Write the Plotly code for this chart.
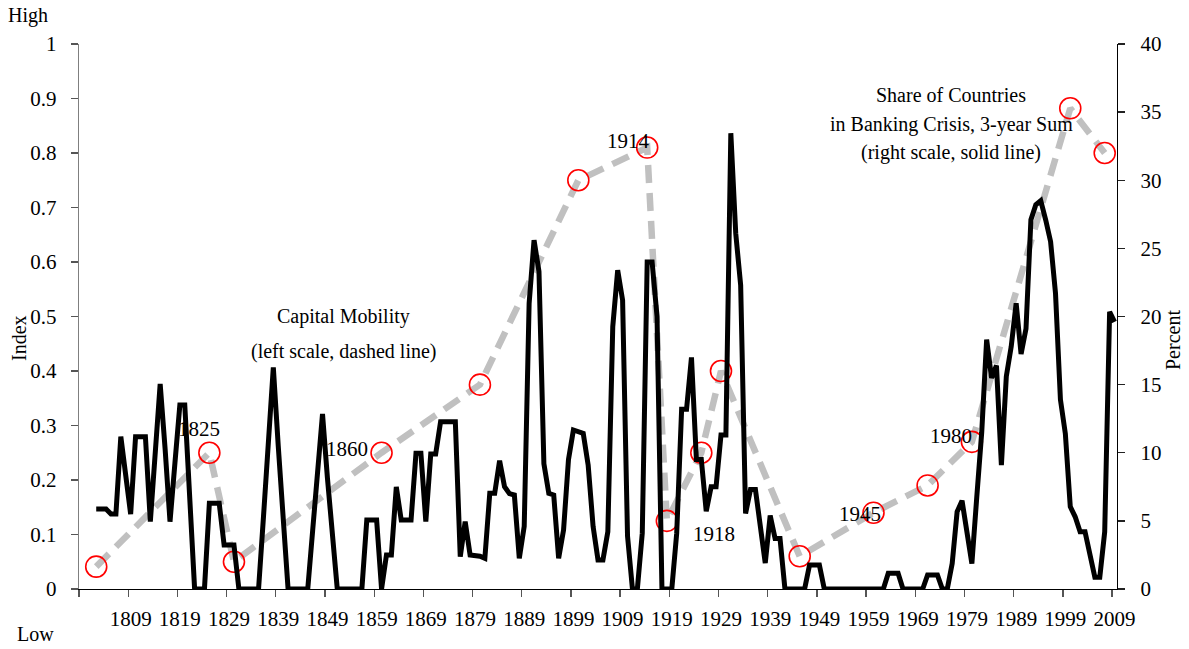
import plotly.graph_objects as go

# ---------------- data ----------------
crisis_years = list(range(1802, 2010))
crisis_share = [
    5.87, 5.87, 5.87, 5.5, 5.5, 11.18, 8.3, 5.5, 11.18, 11.18,          # 1802-1811
    11.18, 4.94, 9.8, 15.05, 10.3, 4.94, 9.25, 13.5, 13.5, 7.0,         # 1812-1821
    0, 0, 0, 6.29, 6.29, 6.29, 3.23, 3.23, 3.23, 0,                     # 1822-1831
    0, 0, 0, 0, 5.3, 10.9, 16.27, 10.5, 4.8, 0,                         # 1832-1841
    0, 0, 0, 0, 4.3, 9.1, 12.84, 8.15, 3.9, 0,                          # 1842-1851
    0, 0, 0, 0, 0, 5.06, 5.06, 5.06, 0, 2.5,                            # 1852-1861
    2.5, 7.5, 5.06, 5.06, 5.06, 9.96, 9.96, 4.94, 9.9, 9.9,             # 1862-1871
    12.28, 12.28, 12.28, 12.28, 2.37, 4.94, 2.5, 2.45, 2.4, 2.25,       # 1872-1881
    7.02, 7.02, 9.42, 7.5, 7.0, 6.9, 2.25, 4.6, 20.97, 25.6,            # 1882-1891
    23.3, 9.2, 7.02, 6.9, 2.25, 4.33, 9.5, 11.67, 11.55, 11.43,         # 1892-1901
    9.1, 4.6, 2.13, 2.13, 4.2, 19.25, 23.4, 21.2, 3.9, 0,               # 1902-1911
    0, 4.1, 24.0, 24.0, 20.0, 0, 0, 0, 4.1, 13.2,                       # 1912-1921
    13.2, 17.0, 9.5, 9.5, 5.7, 7.5, 7.5, 11.3, 11.3, 33.45,             # 1922-1931
    26.1, 22.3, 5.55, 7.3, 7.3, 4.6, 1.9, 5.4, 3.7, 3.7,                # 1932-1941
    0, 0, 0, 0, 0, 1.76, 1.76, 1.76, 0, 0,                              # 1942-1951
    0, 0, 0, 0, 0, 0, 0, 0, 0, 0,                                       # 1952-1961
    0, 1.15, 1.15, 1.15, 0, 0, 0, 0, 0, 1.03,                           # 1962-1971
    1.03, 1.03, 0, 0, 1.88, 5.67, 6.48, 4.33, 1.86, 6.78,               # 1972-1981
    11.5, 18.3, 15.5, 16.4, 9.1, 15.6, 17.8, 20.97, 17.25, 19.1,        # 1982-1991
    27.1, 28.2, 28.5, 27.1, 25.5, 21.7, 13.9, 11.4, 6.04, 5.3,          # 1992-2001
    4.2, 4.2, 2.5, 0.86, 0.86, 4.2, 20.35, 19.6,                        # 2002-2009
]

mobility_years = [1802, 1825, 1830, 1860, 1880, 1900, 1914, 1918,
                  1925, 1929, 1945, 1960, 1971, 1980, 2000, 2007]
mobility_index = [0.041, 0.25, 0.05, 0.25, 0.375, 0.75, 0.81, 0.125,
                  0.25, 0.40, 0.06, 0.14, 0.19, 0.27, 0.882, 0.80]

x_tick_vals = [1809, 1819, 1829, 1839, 1849, 1859, 1869, 1879, 1889, 1899, 1909,
               1919, 1929, 1939, 1949, 1959, 1969, 1979, 1989, 1999, 2009]
x_tick_text = [str(v) for v in x_tick_vals]
x_boundaries = [1798.5 + 10 * k for k in range(22)]

left_ticks = [0, 0.1, 0.2, 0.3, 0.4, 0.5, 0.6, 0.7, 0.8, 0.9, 1]
right_ticks = [0, 5, 10, 15, 20, 25, 30, 35, 40]

# ---------------- layout constants ----------------
W, H = 1189, 649
L, R, T, B = 79, 72, 44, 60
PW, PH = W - L - R, H - T - B
SERIF = "Liberation Serif"
XR = [1798.5, 2009.5]


def px(xp):
    return (xp - L) / PW


def py(yp):
    return (H - B - yp) / PH


fig = go.Figure()

fig.add_trace(go.Scatter(
    x=mobility_years, y=mobility_index, xaxis="x", yaxis="y",
    mode="lines+markers",
    line=dict(color="#c0c0c0", width=6.5, dash="18px,10px"),
    marker=dict(symbol="circle-open", size=21, color="#ff0000",
                line=dict(color="#ff0000", width=1.6)),
    hoverinfo="skip", showlegend=False,
))

fig.add_trace(go.Scatter(
    x=crisis_years, y=crisis_share, xaxis="x", yaxis="y2",
    mode="lines", line=dict(color="#000000", width=5),
    hoverinfo="skip", showlegend=False,
))

tickfont = dict(family=SERIF, size=21, color="#000000")
common_x = dict(range=XR, showgrid=False, zeroline=False, fixedrange=True)

annotations = []


def add_text(text, xp, yp, size=20, angle=0, xanchor="center"):
    annotations.append(dict(
        text=text, xref="paper", yref="paper", x=px(xp), y=py(yp),
        xanchor=xanchor, yanchor="middle", showarrow=False, textangle=angle,
        font=dict(family=SERIF, size=size, color="#000000"),
    ))


add_text("Capital Mobility", 343, 316)
add_text("(left scale, dashed line)", 343, 351)
add_text("Share of Countries", 951, 95)
add_text("in Banking Crisis, 3-year Sum", 951, 124)
add_text("(right scale, solid line)", 951, 152)
add_text("1825", 199, 429, size=21)
add_text("1860", 347, 449, size=21)
add_text("1914", 628, 141, size=21)
add_text("1918", 714, 534, size=21)
add_text("1945", 860, 514, size=21)
add_text("1980", 951, 436, size=21)
add_text("High", 28, 15)
add_text("Low", 35, 634)
add_text("Index", 19, 338, angle=-90)
add_text("Percent", 1173, 340, angle=-90)

fig.update_layout(
    width=W, height=H, autosize=False,
    margin=dict(l=L, r=R, t=T, b=B, pad=0),
    paper_bgcolor="#ffffff", plot_bgcolor="#ffffff",
    showlegend=False,
    font=dict(family=SERIF, color="#000000"),
    xaxis=dict(
        **common_x, anchor="y",
        tickmode="array", tickvals=x_tick_vals, ticktext=x_tick_text,
        ticks="", tickfont=tickfont, ticklabelstandoff=10,
        showline=True, linecolor="#000000", linewidth=1.3,
        minor=dict(tickmode="array", tickvals=x_boundaries, ticks="outside",
                   ticklen=7, tickwidth=1.3, tickcolor="#555555"),
    ),
    xaxis2=dict(
        **common_x, overlaying="x", anchor="y", side="bottom",
        tickmode="array", tickvals=x_boundaries, ticks="inside",
        ticklen=7, tickwidth=1.3, tickcolor="#555555",
        showticklabels=False, showline=False,
    ),
    yaxis=dict(
        range=[0, 1], tickmode="array", tickvals=left_ticks,
        ticks="outside", ticklen=7, tickwidth=1.3, tickcolor="#555555",
        tickfont=tickfont, ticklabelstandoff=10,
        showline=True, linecolor="#7f7f7f", linewidth=1.3,
        showgrid=False, zeroline=False, anchor="x", fixedrange=True,
    ),
    yaxis3=dict(
        range=[0, 1], tickmode="array", tickvals=left_ticks,
        ticks="inside", ticklen=7, tickwidth=1.3, tickcolor="#555555",
        showticklabels=False, showline=False, showgrid=False, zeroline=False,
        overlaying="y", side="left", anchor="x", fixedrange=True,
    ),
    yaxis2=dict(
        range=[0, 40], tickmode="array", tickvals=right_ticks,
        ticks="outside", ticklen=7, tickwidth=1.3, tickcolor="#222222",
        tickfont=tickfont, ticklabelstandoff=11,
        showline=True, linecolor="#000000", linewidth=1.3,
        showgrid=False, zeroline=False, overlaying="y", side="right",
        anchor="x", fixedrange=True,
    ),
    yaxis4=dict(
        range=[0, 40], tickmode="array", tickvals=right_ticks,
        ticks="inside", ticklen=7, tickwidth=1.3, tickcolor="#222222",
        showticklabels=False, showline=False, showgrid=False, zeroline=False,
        overlaying="y", side="right", anchor="x", fixedrange=True,
    ),
    annotations=annotations,
)

fig.write_html(
    "out.html",
    config={"displayModeBar": False, "staticPlot": True},
    post_script="document.body.style.margin='0px';"
                "document.body.style.overflow='hidden';"
                "document.documentElement.style.overflow='hidden';",
)
